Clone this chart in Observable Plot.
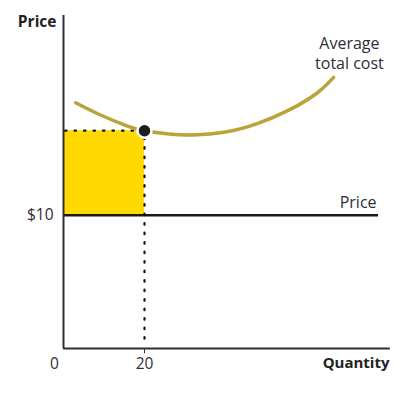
<!DOCTYPE html>
<html>
<head>
<meta charset="utf-8">
<script src="https://cdn.jsdelivr.net/npm/d3@7"></script>
<script src="https://cdn.jsdelivr.net/npm/@observablehq/plot@0.6"></script>
<style>
  html, body { margin: 0; padding: 0; background: #fff; }
  svg { display: block; }
</style>
</head>
<body>
<div id="chart"></div>
<script>
// Average total cost curve (quantity, price)
const atcQ = [3, 9, 15.8, 20, 26, 32, 40, 48, 56, 62.7, 66.7];
const atcP = [18.45, 17.55, 16.7, 16.35, 16.1, 16.03, 16.25, 16.9, 17.95, 19.2, 20.35];
const price = 10;
const qStar = 20;
const atcAtQ = 16.35;
const priceLineEnd = 77.8;
const xTickLabels = ["0", "20"];
const yTickLabel = "$10";

const atc = atcQ.map((q, i) => ({q, p: atcP[i]}));
const font = "'Open Sans', Lato, sans-serif";
const ink = "#2e2e38";

const chart = Plot.plot({
  width: 408,
  height: 394,
  marginLeft: 63,
  marginRight: 21,
  marginTop: 15,
  marginBottom: 46,
  style: {fontFamily: font, background: "#fff"},
  x: {type: "linear", domain: [0, 80], axis: null},
  y: {type: "linear", domain: [0, 25], axis: null},
  marks: [
    Plot.rect([{x1: 0, x2: qStar, y1: price, y2: atcAtQ}], {x1: "x1", x2: "x2", y1: "y1", y2: "y2", fill: "#FFD900"}),
    Plot.ruleY([price], {x1: 0, x2: priceLineEnd, stroke: "#1a1a1a", strokeWidth: 2.5}),
    Plot.ruleY([atcAtQ], {x1: 0, x2: qStar, stroke: "#111", strokeWidth: 2.2, strokeDasharray: "1.5,8", strokeLinecap: "round", dx: 2}),
    Plot.ruleX([qStar], {y1: 0.7, y2: atcAtQ, stroke: "#111", strokeWidth: 2.2, strokeDasharray: "1.5,8", strokeLinecap: "round"}),
    Plot.line(atc, {x: "q", y: "p", curve: "natural", stroke: "#B9A33A", strokeWidth: 3.5}),
    Plot.dot([{q: qStar, p: atcAtQ}], {x: "q", y: "p", r: 7, fill: "#1c1c1c", stroke: "#fff", strokeWidth: 2.5}),
    Plot.ruleX([0], {y1: 0, y2: 25, stroke: ink, strokeWidth: 2}),
    Plot.ruleY([0], {x1: 0, x2: 80.7, stroke: ink, strokeWidth: 2}),
    Plot.ruleX([qStar], {y1: 0, y2: -0.4, stroke: ink, strokeWidth: 1}),
    Plot.text([xTickLabels[0]], {x: 0, y: 0, text: d => d, dx: -9, dy: 16, fontSize: 15.5, fill: ink}),
    Plot.text([xTickLabels[1]], {x: qStar, y: 0, text: d => d, dy: 16, fontSize: 15.5, fill: ink}),
    Plot.text([yTickLabel], {x: 0, y: price, text: d => d, textAnchor: "end", dx: -10, fontSize: 15.5, fill: ink}),
    Plot.text(["Price"], {x: 0, y: 25, text: d => d, textAnchor: "end", dx: -7, dy: 7, fontSize: 15.5, fontWeight: "bold", fill: "#222"}),
    Plot.text(["Quantity"], {x: 80, y: 0, text: d => d, textAnchor: "end", dx: 2, dy: 15, fontSize: 15, fontWeight: "bold", fill: "#222"}),
    Plot.text(["Price"], {x: 77.3, y: price, text: d => d, textAnchor: "end", dy: -12, fontSize: 16, fill: ink}),
    Plot.text(["Average\ntotal cost"], {x: 70.6, y: 22.2, text: d => d, lineHeight: 1.25, fontSize: 16, fill: ink})
  ]
});
document.getElementById("chart").appendChild(chart);
</script>
</body>
</html>
